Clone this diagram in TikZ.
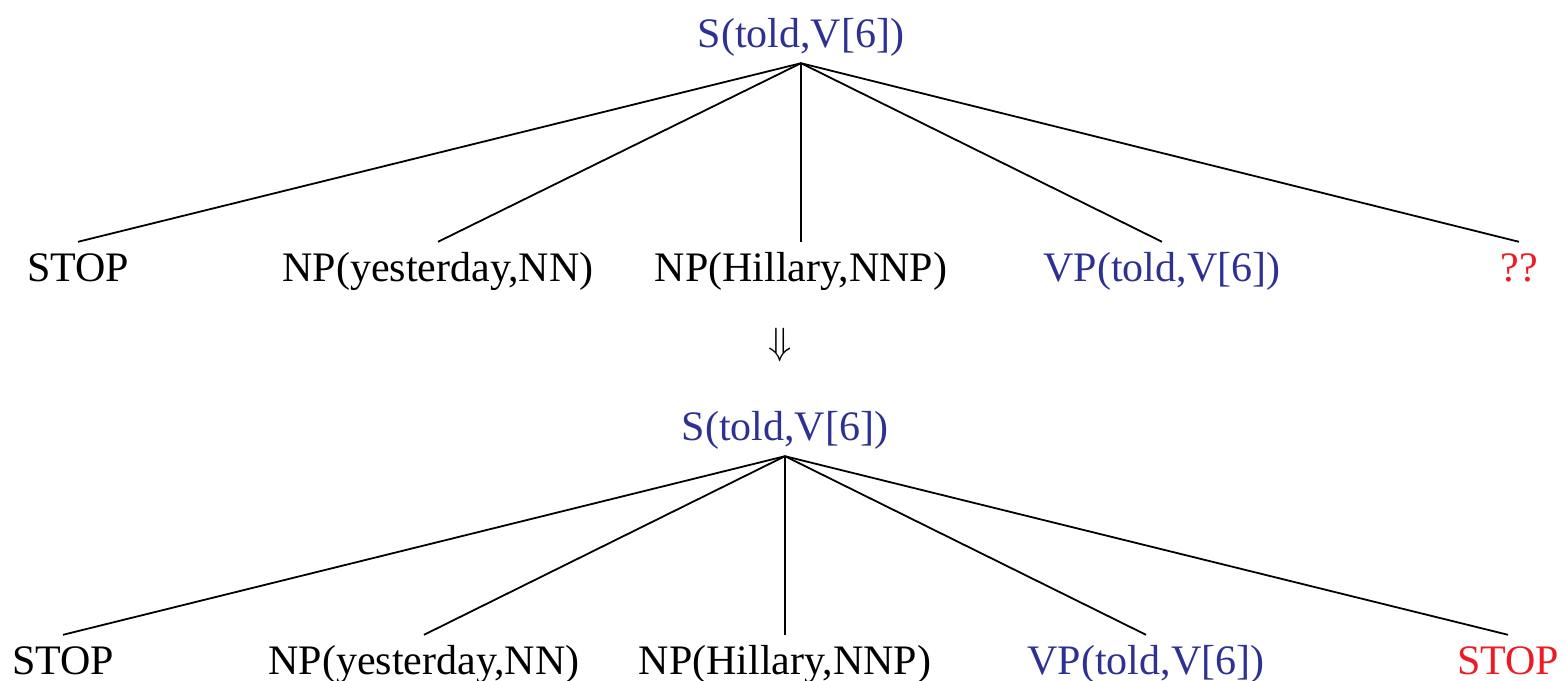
\documentclass[tikz,border=0pt]{standalone}
\usepackage{fontspec}
\setmainfont{Liberation Serif}
\definecolor{treeblue}{HTML}{2E3192}
\definecolor{treered}{HTML}{ED1C24}
\begin{document}
\begin{tikzpicture}[x=1pt,y=-1pt,
  every node/.style={font=\fontsize{42pt}{50pt}\selectfont, anchor=base, inner xsep=0pt},
  rootnode/.style={text height=29pt, text depth=9pt, inner ysep=7pt},
  leafnode/.style={text height=29pt, text depth=9pt, inner ysep=10pt},
  arrownode/.style={anchor=center, font=\normalsize},
  edge/.style={line width=1.8pt, black}]
\useasboundingbox (0,0) rectangle (1566,680);
% top tree
\node[rootnode, text=treeblue] (r1) at (801,47) {S(told,V[6])};
\node[leafnode] (a1) at (78,281) {STOP};
\node[leafnode] (b1) at (438,281) {NP(yesterday,NN)};
\node[leafnode] (c1) at (801,281) {NP(Hillary,NNP)};
\node[leafnode, text=treeblue] (d1) at (1162,281) {VP(told,V[6])};
\node[leafnode, text=treered] (e1) at (1519,281) {??};
\foreach \n in {a1,b1,c1,d1,e1} \draw[edge] (r1.south) -- (\n.north);
% arrow
\node[arrownode] (arr) at (780,345) {\scalebox{3.8}{$\Downarrow$}};
% bottom tree
\node[rootnode, text=treeblue] (r2) at (785,440) {S(told,V[6])};
\node[leafnode] (a2) at (63,674) {STOP};
\node[leafnode] (b2) at (424,674) {NP(yesterday,NN)};
\node[leafnode] (c2) at (785,674) {NP(Hillary,NNP)};
\node[leafnode, text=treeblue] (d2) at (1146,674) {VP(told,V[6])};
\node[leafnode, text=treered] (e2) at (1508,674) {STOP};
\foreach \n in {a2,b2,c2,d2,e2} \draw[edge] (r2.south) -- (\n.north);
\end{tikzpicture}
\end{document}
